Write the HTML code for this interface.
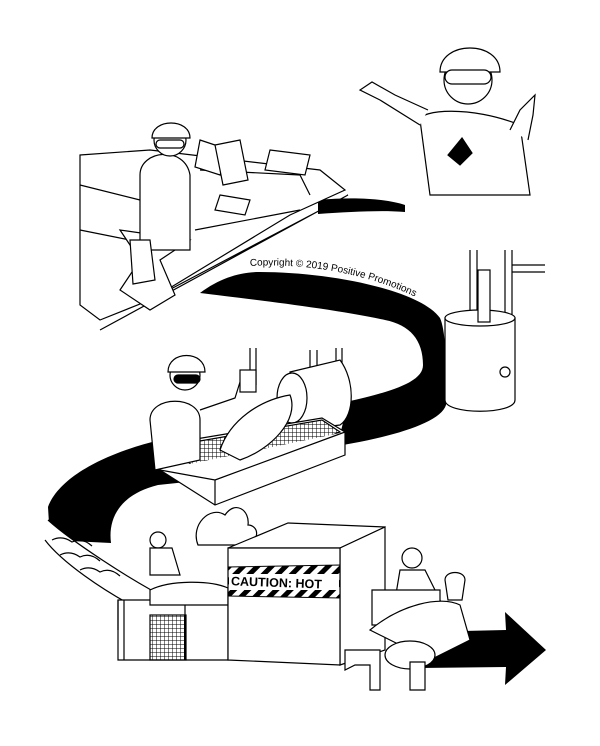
<!DOCTYPE html>
<html><head><meta charset="utf-8"><style>
html,body{margin:0;padding:0;background:#fff}
svg{display:block}
</style></head><body>
<svg width="600" height="746" viewBox="0 0 600 746" xmlns="http://www.w3.org/2000/svg" font-family="Liberation Sans, sans-serif">
<defs>
<pattern id="hz" width="10" height="10" patternUnits="userSpaceOnUse" patternTransform="rotate(45)">
<rect width="5" height="10" fill="#000"/></pattern>
<pattern id="grid" width="4" height="4" patternUnits="userSpaceOnUse">
<path d="M0 0H4M0 0V4" stroke="#000" stroke-width="1"/></pattern>
<path id="cp" d="M250,266 C320,262 400,280 450,318"/>
</defs>
<rect width="600" height="746" fill="#fff"/>
<!-- black band -->
<path d="M318,200 C360,196 390,200 405,205 L405,212 C380,210 350,212 318,214Z" fill="#000"/>
<path d="M200,293 C220,278 240,272 260,272 C330,272 420,290 440,318 C448,335 446,395 446,405 C440,425 380,440 323,448 L323,448 L300,452 L160,440 C110,452 60,475 48,507 L50,540 L111,543 C108,520 118,495 158,485 L300,470 L330,460 C345,430 346,402 346,402 C400,390 423,380 423,365 C423,340 410,325 385,320 C330,308 240,298 200,293Z" fill="#000"/>
<!-- arrow -->
<path d="M420,632 L506,630 L505,612 L546,650 L505,685 L506,667 L420,668Z" fill="#000"/>
<g fill="#fff" stroke="#000" stroke-width="1.2">
<!-- sorting table -->
<path d="M80,155 L150,150 L320,170 L345,190 L290,215 L150,300 L100,320 L80,305Z"/>
<path d="M150,300 L330,205 L348,195 L100,330" fill="none"/>
<path d="M80,185 L140,200 M80,230 L130,240 M200,170 L300,175 L310,195 M195,230 L300,210" fill="none"/>
<path d="M120,230 L140,260 L120,290 L150,310 L175,295 L160,260 L190,240 Z"/>
<path d="M200,140 l30,10 l-10,25 l-25,-8z M270,150 l40,5 l-5,20 l-40,-5z M220,195 l30,5 l-5,15 l-30,-5z"/>
<!-- worker top -->
<path d="M140,175 C140,150 185,145 190,175 L190,250 L140,250Z"/>
<circle cx="170" cy="140" r="16"/><path d="M152,138 C152,118 190,118 190,138Z"/>
<rect x="156" y="140" width="28" height="8" rx="4"/>
<path d="M130,240 l20,0 l5,40 l-22,4z M215,145 l25,-5 l8,40 l-25,5z"/>
<!-- girl -->
<path d="M420,120 C420,110 470,105 520,125 L530,195 L430,195Z"/>
<circle cx="468" cy="80" r="24"/>
<path d="M440,72 C440,40 500,40 500,72Z"/>
<rect x="445" y="70" width="46" height="14" rx="7"/>
<path d="M420,125 L380,100 L360,90 L372,82 L395,95 L428,110 M510,130 L520,110 L535,95 L533,115 L528,140"/>
<path d="M462,138 l10,15 l-12,12 l-12,-10z" fill="#000"/>
<!-- vat -->
<path d="M505,250 L505,355 M512,250 L512,355" />
<path d="M470,250 L470,310 M477,250 L477,310 M512,265 L545,265 M512,272 L545,272"/>
<path d="M445,318 L445,400 C445,415 515,415 515,400 L515,318Z"/>
<ellipse cx="480" cy="318" rx="35" ry="8"/>
<rect x="478" y="270" width="12" height="52"/>
<circle cx="505" cy="372" r="5"/>
<!-- pipes from ceiling -->
<path d="M250,348 L250,385 M256,348 L256,385 M310,350 L310,372 M317,350 L317,372 M336,348 L336,415 M342,348 L342,415"/>
<rect x="240" y="370" width="16" height="22"/>
<!-- drum -->
<path d="M290,372 L340,360 C355,380 355,415 340,425 L300,430Z"/>
<ellipse cx="292" cy="398" rx="15" ry="25"/>
<!-- grate box -->
<path d="M160,445 L322,418 L345,432 L345,455 L215,505 L160,470Z"/>
<path d="M165,447 L322,420 L340,432 L215,480 Z" fill="url(#grid)"/>
<path d="M160,470 L215,480 L345,432 M215,480 L215,505"/>
<path d="M220,450 C230,420 260,400 290,395 C300,420 270,450 240,460Z"/>
<!-- worker middle -->
<path d="M150,420 C150,395 200,395 200,420 L200,460 L155,470Z"/>
<circle cx="185" cy="375" r="15"/><path d="M168,372 C168,350 205,350 205,372Z"/>
<rect x="174" y="375" width="26" height="8" rx="4" fill="#000"/>
<path d="M200,410 L235,398 L240,382"/>
<!-- left water channel -->
<path d="M48,520 C70,540 130,580 170,600 L150,615 C100,590 60,560 45,540" />
<path d="M52,540 q10,-5 20,2 q10,-5 20,4 M60,555 q10,-5 20,2 q10,-5 20,4 M80,570 q10,-5 20,2 q10,-5 20,4" fill="none"/>
<!-- steam -->
<path d="M198,545 C190,525 210,505 225,515 C235,500 250,510 248,525 C258,525 262,540 245,545Z"/>
<!-- small worker -->
<circle cx="158" cy="540" r="8"/><path d="M150,548 L172,548 L180,575 L150,575Z"/>
<!-- left frame -->
<path d="M118,600 L228,600 L228,660 L118,660Z"/>
<rect x="150" y="615" width="36" height="45" fill="url(#grid)"/>
<path d="M118,600 L118,630 M124,600 L124,660 M185,600 L185,660"/>
<path d="M150,590 C170,580 210,580 228,588 L228,605 L150,605Z"/>
<!-- main box -->
<path d="M228,548 L288,523 L385,527 L340,548Z"/>
<path d="M340,548 L385,527 L385,650 L340,665Z"/>
<path d="M228,548 L340,548 L340,665 L228,660Z"/>
</g>
<!-- caution band -->
<g>
<path d="M228,567 L340,565 L340,598 L228,596Z" fill="url(#hz)" stroke="#000"/>
<path d="M229,574 L339,574 L339,590 L229,590Z" fill="#fff"/>
<text x="231" y="587" font-size="12.5" font-weight="bold" transform="rotate(2 280 582)">CAUTION: HOT</text>
</g>
<g fill="#fff" stroke="#000" stroke-width="1.2">
<!-- right worker & rollers -->
<circle cx="412" cy="558" r="10"/><path d="M400,570 L425,570 L440,600 L395,600Z"/>
<path d="M372,590 L440,590 L440,625 L372,625Z"/>
<path d="M370,630 C400,605 440,595 460,605 L470,640 L430,660 Z"/>
<ellipse cx="410" cy="655" rx="25" ry="14"/>
<path d="M345,650 L380,650 L380,690 L370,690 L370,665 L355,665 L345,670Z"/>
<path d="M410,662 L425,662 L425,690 L410,690Z"/>
<path d="M445,580 C445,570 465,570 465,580 L462,600 L448,600Z"/>
</g>
<text font-size="10" fill="#000"><textPath href="#cp">Copyright © 2019 Positive Promotions</textPath></text>
</svg>
</body></html>
